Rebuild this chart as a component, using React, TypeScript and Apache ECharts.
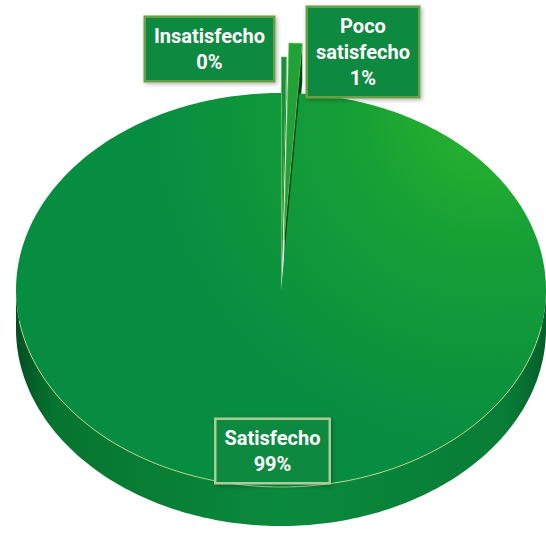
import React, { useEffect, useRef } from "react";
import * as echarts from "echarts";

const categories = ["Insatisfecho", "Poco satisfecho", "Satisfecho"];
const values = [0.3, 0.8, 98.9];

// styling (not data)
const explode = [36, 50, 0];
const labelPos: [number, number][] = [
  [209.5, 49],
  [363, 52],
  [272.5, 451],
];
const labelBorder = ["#6b9f48", "#6b9f48", "#a9cc98"];

export default function App() {
  const ref = useRef<HTMLDivElement>(null);
  useEffect(() => {
    const chart = echarts.init(ref.current!, null, { renderer: "svg" });
    const total = values.reduce((a, b) => a + b, 0);
    const cx = 281, cy = 290, rx = 265, ry = 197, depth = 39;
    const TAU = Math.PI * 2;
    const pt = (th: number, ox: number, oy: number, dy = 0) => [
      cx + ox + rx * Math.sin(th),
      cy + oy - ry * Math.cos(th) + dy,
    ];
    const arc = (a0: number, a1: number, ox: number, oy: number, dy = 0) => {
      const n = Math.max(2, Math.ceil((a1 - a0) / (Math.PI / 180)));
      const pts: number[][] = [];
      for (let k = 0; k <= n; k++) pts.push(pt(a0 + ((a1 - a0) * k) / n, ox, oy, dy));
      return pts;
    };
    const topFill = new echarts.graphic.RadialGradient(
      490, 110, 340,
      [
        { offset: 0, color: "#2cb52b" },
        { offset: 0.4, color: "#16a036" },
        { offset: 1, color: "#078d41" },
      ],
      true
    );
    const sideFill = new echarts.graphic.LinearGradient(
      cx - rx, 0, cx + rx, 0,
      [
        { offset: 0, color: "#034f24" },
        { offset: 0.07, color: "#06742f" },
        { offset: 0.5, color: "#0a8a3c" },
        { offset: 0.93, color: "#087c36" },
        { offset: 1, color: "#055e2b" },
      ],
      true
    );

    chart.setOption({
      animation: false,
      series: [
        {
          type: "custom",
          coordinateSystem: "none",
          data: values.map((v, i) => ({ name: categories[i], value: [v] })),
          renderItem: (params: any, api: any) => {
            const i = params.dataIndex;
            const v = api.value(0);
            let acc = 0;
            for (let j = 0; j < i; j++) acc += values[j];
            const a0 = (acc / total) * TAU;
            const a1 = ((acc + v) / total) * TAU;
            const am = (a0 + a1) / 2;
            const e = explode[i];
            const ox = e * (rx / ry) * Math.sin(am);
            const oy = -e * Math.cos(am);
            const children: any[] = [];
            const apex = [cx + ox, cy + oy];
            const s = Math.max(a0, Math.PI / 2);
            const t = Math.min(a1, (3 * Math.PI) / 2);
            if (s < t) {
              const upper = arc(s, t, ox, oy);
              const lower = arc(s, t, ox, oy, depth).reverse();
              children.push({
                type: "polygon",
                shape: { points: upper.concat(lower) },
                style: { fill: sideFill },
              });
            }
            if (e > 0) {
              const E = pt(a1, ox, oy);
              children.push({
                type: "polygon",
                shape: {
                  points: [apex, E, [E[0], E[1] + depth], [apex[0], apex[1] + depth]],
                },
                style: { fill: i === 1 ? "#0a3f18" : "#0c6a2c" },
              });
              const S = pt(a0, ox, oy);
              children.push({
                type: "polygon",
                shape: {
                  points: [apex, S, [S[0], S[1] + depth * 0.5], [apex[0], apex[1] + depth]],
                },
                style: { fill: "#d9e8d2", opacity: 0.8 },
              });
            }
            const top = [apex].concat(arc(a0, a1, ox, oy));
            children.push({
              type: "polygon",
              shape: { points: top },
              style: {
                fill: e > 0 ? (i === 1 ? "#1fa236" : "#0f9239") : topFill,
                stroke: e > 0 ? "#5fb34a" : "none",
                lineWidth: e > 0 ? 0.6 : 0,
              },
            });
            if (s < t) {
              children.push({
                type: "polyline",
                shape: { points: arc(Math.max(s, Math.PI * 0.56), Math.min(t, Math.PI * 1.45), ox, oy) },
                style: { stroke: "rgba(225,228,160,0.75)", lineWidth: 1, fill: "none" },
              });
            }
            const pct = Math.round((v / total) * 100);
            const name = categories[i];
            const nameText = name.length > 12 ? name.split(" ").join("\n") : name;
            children.push({
              type: "text",
              z2: 100,
              style: {
                text: `${nameText}\n${pct}%`,
                x: labelPos[i][0],
                y: labelPos[i][1],
                align: "center",
                verticalAlign: "middle",
                fill: "#ffffff",
                fontFamily: "Roboto",
                fontWeight: "bold",
                fontSize: 20,
                lineHeight: 26,
                backgroundColor: "#08893f",
                borderColor: labelBorder[i],
                borderWidth: 2.5,
                padding: [5, 8, 5, 8],
                shadowBlur: 4,
                shadowColor: "rgba(0,0,0,0.3)",
                shadowOffsetX: 1.5,
                shadowOffsetY: 1.5,
              },
            });
            return { type: "group", children };
          },
        },
      ],
    });
    return () => chart.dispose();
  }, []);
  return (
    <div
      ref={ref}
      style={{ position: "fixed", left: 0, top: 0, width: 546, height: 533, background: "#ffffff" }}
    />
  );
}
